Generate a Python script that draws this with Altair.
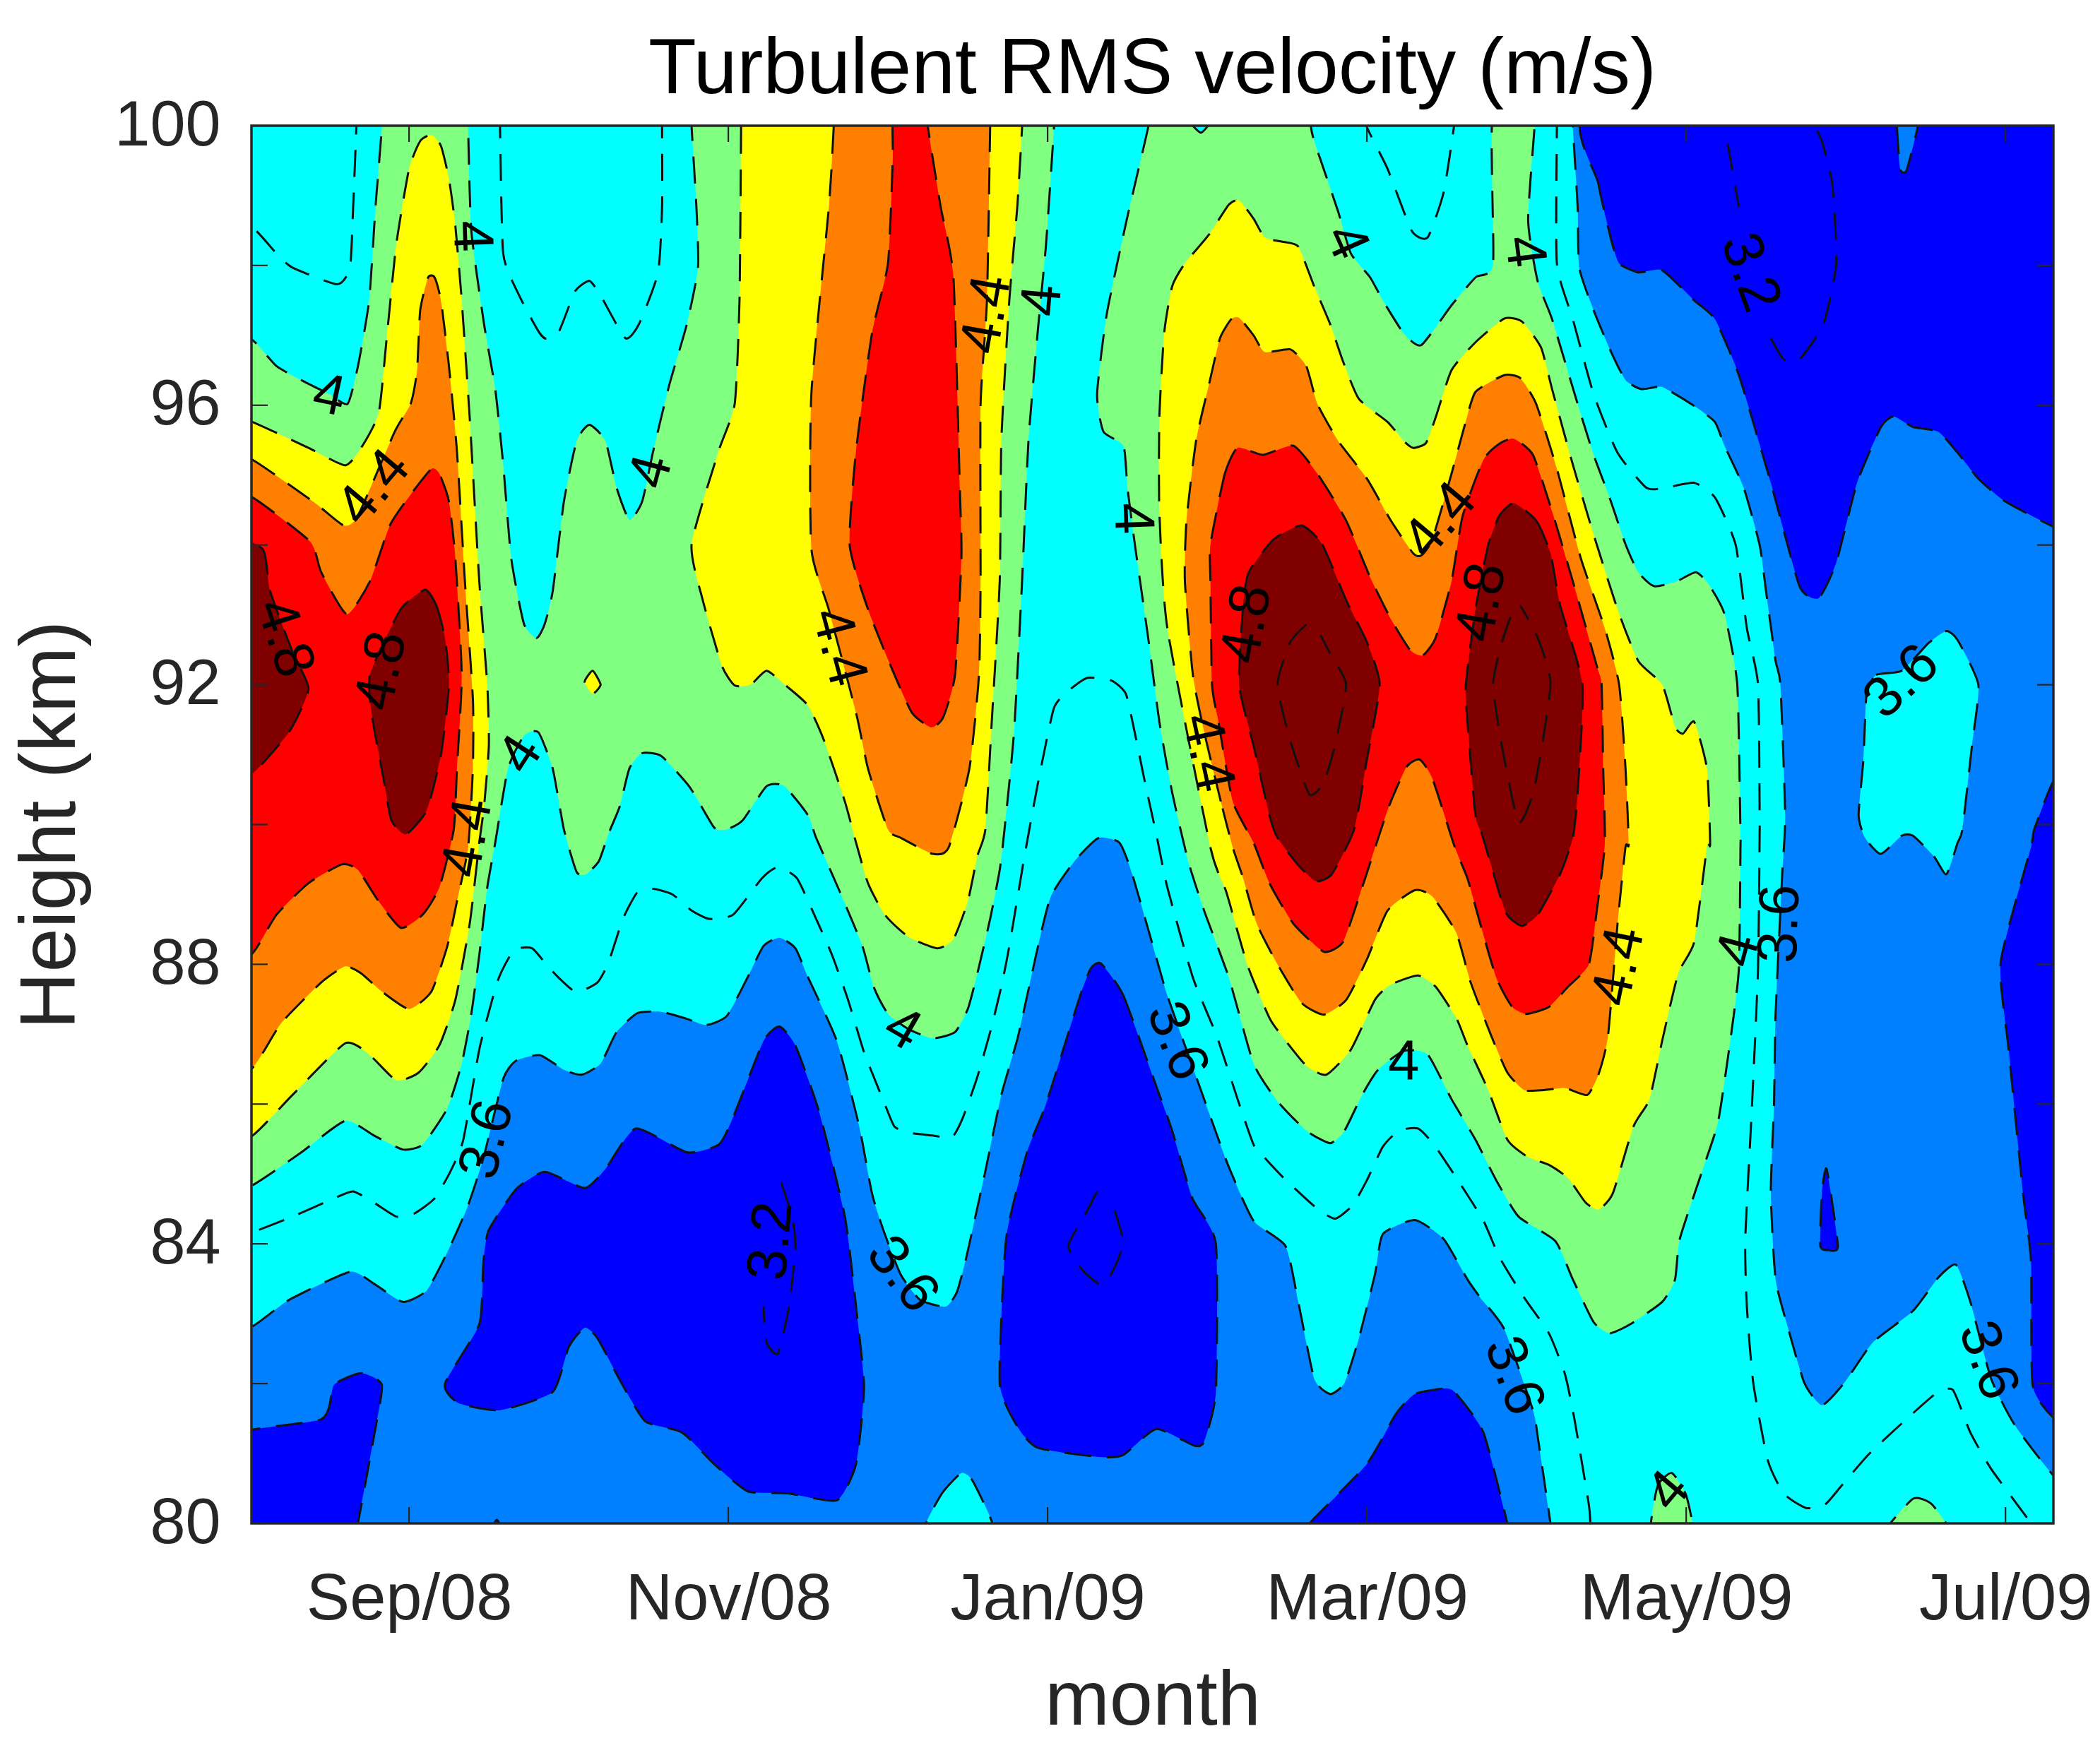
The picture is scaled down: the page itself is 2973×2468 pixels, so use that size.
import altair as alt
import pandas as pd

# ---- axis content -------------------------------------------------------
MONTH_TICKS = [0, 2, 4, 6, 8, 10]          # months after Sep/08
MONTH_NAMES = ["Sep/08", "Nov/08", "Jan/09", "Mar/09", "May/09", "Jul/09"]
HEIGHT_LABELS = [80, 84, 88, 92, 96, 100]  # km
HEIGHT_TICKS = [80, 82, 84, 86, 88, 90, 92, 94, 96, 98, 100]
M_MIN, M_MAX = -0.987, 10.3
K_MIN, K_MAX = 80, 100

# ---- contours: (months after Sep/08, height km) ----
# level 3.4: below it dark blue
D1 = [(-1.2,81.2),(-0.55,81.49),(-0.47,81.98),(-0.30,82.15),(-0.17,81.98),(-0.22,81.24),(-0.32,80.0),(-0.34,79.8),(-1.2,79.8)]
D2 = [(0.225,82.0),(0.44,82.85),(0.466,83.75),(0.50,84.2),(0.67,84.78),(0.85,85.03),(1.10,84.8),(1.23,85.07),(1.42,85.65),(1.74,85.31),(1.94,85.42),(2.03,85.81),(2.22,86.9),(2.32,87.11),(2.42,86.84),(2.57,85.88),(2.73,84.39),(2.80,83.1),(2.85,81.95),(2.80,80.85),(2.68,80.33),(2.37,80.43),(2.12,80.46),(1.91,80.85),(1.71,81.3),(1.48,81.46),(1.33,82.01),(1.18,82.65),(1.10,82.8),(1.00,82.52),(0.90,81.88),(0.57,81.62),(0.31,81.72)]
D3 = [(4.335,88.01),(4.475,87.55),(4.68,86.26),(4.78,85.62),(4.907,84.65),(5.054,84.0),(5.054,81.88),(4.98,81.17),(4.92,81.11),(4.68,81.35),(4.475,80.98),(4.32,80.95),(3.94,81.08),(3.815,81.37),(3.70,82.01),(3.74,84.07),(3.87,85.3),(3.99,86.0),(4.195,87.49),(4.27,87.94)]
D4 = [(5.6,79.8),(5.64,80.0),(6.0,80.85),(6.18,81.56),(6.30,81.85),(6.48,81.93),(6.55,81.88),(6.73,81.3),(6.88,80.0),(6.9,79.8)]
D5 = [(7.40,100.2),(7.45,99.17),(7.53,98.37),(7.58,98.03),(7.70,97.9),(7.85,97.93),(8.05,97.5),(8.18,97.23),(8.33,96.43),(8.53,94.89),(8.71,93.41),(8.83,93.24),(8.94,93.75),(9.07,94.89),(9.22,95.69),(9.30,95.84),(9.42,95.69),(9.58,95.62),(9.70,95.32),(9.83,94.95),(10.0,94.62),(10.31,94.25),(10.5,94.1),(10.5,100.2),(9.45,100.2),(9.45,99.98),(9.38,99.36),(9.34,99.38),(9.32,99.98),(9.32,100.2)]
D6 = [(10.5,90.9),(10.31,90.66),(10.18,89.93),(10.16,89.68),(9.97,88.03),(10.02,86.78),(10.11,84.72),(10.16,83.75),(10.17,81.98),(10.31,81.49),(10.5,81.3)]
D7 = [(8.88,85.07),(8.95,83.97),(8.89,83.91),(8.84,83.97),(8.85,84.72)]
D8 = [(0.50,79.8),(0.55,80.05),(0.60,79.8)]

# level 3.6: above it cyan
C1 = [(-1.2,82.7),(-0.98,82.82),(-0.75,83.2),(-0.37,83.6),(-0.22,83.43),(-0.04,83.17),(0.11,83.33),(0.24,83.88),(0.365,84.52),(0.466,85.23),(0.59,86.36),(0.67,86.62),(0.82,86.7),(0.97,86.49),(1.08,86.42),(1.20,86.58),(1.30,87.03),(1.43,87.3),(1.58,87.32),(1.74,87.22),(1.86,87.13),(1.99,87.26),(2.12,87.81),(2.22,88.26),(2.32,88.38),(2.42,88.23),(2.50,87.81),(2.68,86.9),(2.82,85.68),(2.90,84.72),(2.98,84.14),(3.08,83.56),(3.20,83.2),(3.36,83.1),(3.43,83.3),(3.485,83.75),(3.535,84.26),(3.61,85.04),(3.71,86.13),(3.815,86.97),(3.94,88.26),(4.02,88.97),(4.17,89.48),(4.32,89.81),(4.45,89.74),(4.53,89.29),(4.70,87.94),(4.75,87.55),(4.86,86.84),(5.01,85.88),(5.135,85.1),(5.29,84.33),(5.49,83.97),(5.57,83.17),(5.67,82.07),(5.77,81.85),(5.86,82.01),(5.95,82.65),(6.05,83.56),(6.10,84.14),(6.30,84.34),(6.48,84.07),(6.63,83.49),(6.71,83.23),(6.86,82.78),(7.04,81.62),(7.07,81.24),(7.15,80.0),(7.16,79.8),(10.5,79.8),(10.5,80.4),(10.31,80.66),(10.06,81.4),(9.91,82.07),(9.78,83.17),(9.69,83.7),(9.58,83.52),(9.42,83.04),(9.17,82.59),(8.99,82.01),(8.85,81.69),(8.74,82.01),(8.64,82.78),(8.56,83.49),(8.53,84.72),(8.55,86.0),(8.56,87.29),(8.60,89.23),(8.62,90.13),(8.59,92.0),(8.56,92.34),(8.50,93.34),(8.46,94.0),(8.36,94.82),(8.24,95.42),(8.18,95.76),(8.05,95.99),(7.85,96.26),(7.72,96.23),(7.62,96.36),(7.53,96.76),(7.42,97.36),(7.33,97.97),(7.32,98.84),(7.29,99.98),(7.29,100.2),(-1.2,100.2)]
C2 = [(3.22,79.8),(3.33,80.4),(3.46,80.72),(3.535,80.59),(3.67,79.8)]
C3 = [(9.13,91.87),(9.19,92.14),(9.35,92.2),(9.52,92.6),(9.63,92.77),(9.70,92.64),(9.83,92.0),(9.79,91.13),(9.73,89.93),(9.70,89.74),(9.63,89.29),(9.55,89.55),(9.42,89.84),(9.35,89.84),(9.22,89.58),(9.12,89.81),(9.08,90.13),(9.11,90.93)]

# level 4.0: above it green
G1 = [(-1.2,84.7),(-0.98,84.84),(-0.68,85.3),(-0.40,85.76),(-0.22,85.55),(-0.04,85.35),(0.085,85.42),(0.24,85.94),(0.33,86.58),(0.39,87.29),(0.44,88.13),(0.49,89.1),(0.54,89.74),(0.62,90.8),(0.72,91.27),(0.81,91.32),(0.90,90.8),(0.97,89.93),(1.05,89.32),(1.11,89.29),(1.19,89.48),(1.25,89.87),(1.32,90.26),(1.38,90.8),(1.46,91.02),(1.58,90.98),(1.76,90.53),(1.91,89.96),(1.99,89.93),(2.09,90.06),(2.24,90.55),(2.35,90.55),(2.50,90.13),(2.55,89.81),(2.70,89.03),(2.84,88.26),(2.91,87.68),(3.0,87.29),(3.13,87.07),(3.28,86.94),(3.42,87.03),(3.50,87.36),(3.56,87.87),(3.64,88.65),(3.70,89.35),(3.73,89.93),(3.79,91.33),(3.84,93.48),(3.88,95.49),(3.94,97.1),(3.99,98.3),(4.04,99.98),(4.04,100.2),(1.77,100.2),(1.77,99.98),(1.80,98.84),(1.81,97.97),(1.74,97.16),(1.63,96.29),(1.53,95.35),(1.46,94.62),(1.38,94.36),(1.30,94.82),(1.23,95.49),(1.13,95.72),(1.05,95.49),(0.97,94.62),(0.90,93.34),(0.85,92.87),(0.80,92.67),(0.72,92.87),(0.64,93.81),(0.59,95.15),(0.54,96.23),(0.47,97.16),(0.39,98.5),(0.37,99.98),(0.37,100.2),(-0.17,100.2),(-0.17,99.98),(-0.21,98.84),(-0.25,97.5),(-0.32,96.56),(-0.385,96.02),(-0.50,96.16),(-0.65,96.33),(-0.83,96.56),(-0.98,96.93),(-1.2,97.1)]
G2 = [(4.63,100.2),(4.63,99.98),(4.50,98.7),(4.37,97.3),(4.31,96.16),(4.35,95.62),(4.475,95.42),(4.50,94.82),(4.55,93.95),(4.63,92.67),(4.70,91.47),(4.78,90.46),(4.88,89.48),(4.98,88.77),(5.135,87.81),(5.29,86.58),(5.44,86.04),(5.62,85.62),(5.77,85.44),(5.86,85.62),(5.97,86.13),(6.07,86.49),(6.23,86.76),(6.38,86.71),(6.53,86.07),(6.68,85.49),(6.81,84.91),(6.95,84.39),(7.18,84.04),(7.29,83.49),(7.42,82.88),(7.52,82.72),(7.65,82.85),(7.85,83.17),(7.93,83.49),(7.96,84.07),(8.10,85.04),(8.20,85.75),(8.28,86.97),(8.33,87.94),(8.34,89.68),(8.34,89.86),(8.32,92.0),(8.24,93.01),(8.14,93.44),(8.06,93.61),(7.94,93.48),(7.80,93.41),(7.70,93.61),(7.62,94.01),(7.52,94.68),(7.42,95.29),(7.32,96.02),(7.16,97.23),(7.07,97.77),(7.01,98.64),(7.05,99.98),(7.05,100.2),(6.79,100.2),(6.79,98.03),(6.68,97.83),(6.53,97.43),(6.34,96.86),(6.23,97.03),(6.10,97.5),(6.02,97.83),(5.90,98.17),(5.82,98.77),(5.67,99.78),(5.65,99.98),(5.65,100.2)]
G3 = [(7.78,79.8),(7.82,80.53),(7.91,80.72),(8.0,80.4),(8.04,79.8)]
G4 = [(9.23,79.8),(9.42,80.35),(9.54,80.27),(9.66,79.8)]
C4 = [(4.88,100.1),(4.96,99.9),(5.03,100.1)]   # small cyan dimple at the top of the green

# level 4.2: above it yellow
Y1 = [(-1.2,95.9),(-0.98,95.76),(-0.63,95.39),(-0.40,95.14),(-0.30,95.39),(-0.19,95.89),(-0.14,96.96),(-0.08,98.3),(-0.0,99.38),(0.07,99.78),(0.14,99.87),(0.20,99.71),(0.25,99.24),(0.29,98.57),(0.33,97.5),(0.38,95.82),(0.44,93.48),(0.49,92.0),(0.50,91.13),(0.47,90.26),(0.44,89.74),(0.38,88.58),(0.29,87.49),(0.19,86.84),(0.06,86.45),(-0.08,86.34),(-0.25,86.71),(-0.40,86.87),(-0.73,86.13),(-0.98,85.55),(-1.2,85.4)]
Y2 = [(2.08,100.2),(2.08,99.98),(2.07,97.5),(2.04,96.02),(1.94,95.35),(1.77,94.01),(1.84,93.21),(1.96,92.27),(2.04,91.99),(2.14,92.0),(2.24,92.2),(2.37,91.97),(2.50,91.7),(2.60,91.2),(2.73,90.33),(2.80,89.74),(2.875,89.16),(2.98,88.71),(3.13,88.39),(3.31,88.23),(3.41,88.36),(3.50,88.9),(3.56,89.55),(3.61,89.93),(3.65,91.47),(3.70,93.48),(3.71,95.49),(3.76,97.5),(3.81,98.84),(3.84,99.98),(3.84,100.2)]
Y3 = [(5.02,89.67),(4.75,92.81),(4.70,94.48),(4.70,95.82),(4.73,97.03),(4.78,97.7),(4.86,98.03),(5.01,98.44),(5.135,98.87),(5.20,98.93),(5.29,98.67),(5.36,98.4),(5.47,98.34),(5.57,98.27),(5.67,97.7),(5.77,97.16),(5.85,96.63),(5.95,96.09),(6.13,95.76),(6.23,95.49),(6.29,95.39),(6.37,95.46),(6.43,95.82),(6.53,96.5),(6.68,96.9),(6.86,97.24),(6.97,97.2),(7.09,96.83),(7.16,96.23),(7.29,95.15),(7.42,94.15),(7.57,93.08),(7.70,92.34),(7.85,92.0),(7.93,91.4),(7.98,91.3),(8.05,91.47),(8.13,90.8),(8.15,89.72),(8.13,89.68),(8.05,88.32),(7.95,87.87),(7.85,86.91),(7.77,86.07),(7.67,85.68),(7.54,84.72),(7.45,84.49),(7.37,84.59),(7.26,84.94),(7.14,85.13),(7.01,85.24),(6.88,85.49),(6.76,86.2),(6.63,86.84),(6.56,87.23),(6.43,87.68),(6.32,87.84),(6.15,87.71),(6.05,87.49),(5.90,86.78),(5.745,86.42),(5.62,86.55),(5.49,86.91),(5.39,87.23),(5.25,88.0),(5.12,89.03)]
Y4 = [(1.10,92.04),(1.15,92.2),(1.20,92.0),(1.15,91.87)]

# level 4.4: above it orange
O1 = [(-1.2,95.4),(-0.98,95.22),(-0.60,94.62),(-0.41,94.28),(-0.32,94.42),(-0.09,95.62),(0.01,96.02),(0.05,96.49),(0.07,97.36),(0.12,97.83),(0.16,97.83),(0.20,97.5),(0.25,96.56),(0.30,95.35),(0.35,93.48),(0.40,91.8),(0.40,90.8),(0.37,89.67),(0.30,88.9),(0.24,88.26),(0.14,87.61),(-0.0,87.36),(-0.17,87.61),(-0.30,87.87),(-0.40,87.97),(-0.55,87.74),(-0.80,87.16),(-0.98,86.52),(-1.2,86.3)]
O2 = [(2.66,100.2),(2.66,99.98),(2.63,98.84),(2.52,96.16),(2.52,93.95),(2.63,93.07),(2.80,91.6),(2.875,90.8),(3.0,89.93),(3.08,89.81),(3.28,89.58),(3.38,89.67),(3.51,90.8),(3.57,92.14),(3.58,93.48),(3.58,96.0),(3.62,97.5),(3.64,99.98),(3.64,100.2)]
O3 = [(5.16,89.67),(5.085,90.33),(4.98,91.33),(4.91,92.14),(4.86,93.48),(4.87,94.35),(4.93,95.49),(5.01,96.29),(5.08,96.96),(5.15,97.23),(5.20,97.25),(5.29,97.0),(5.36,96.76),(5.52,96.8),(5.62,96.56),(5.69,96.02),(5.82,95.49),(6.0,94.95),(6.15,94.35),(6.29,93.88),(6.34,93.85),(6.41,94.08),(6.53,95.02),(6.61,95.69),(6.68,96.19),(6.86,96.43),(6.96,96.39),(7.06,96.02),(7.19,95.09),(7.34,93.81),(7.49,92.81),(7.58,92.0),(7.62,90.8),(7.64,89.72),(7.62,89.68),(7.57,88.58),(7.51,86.97),(7.45,86.42),(7.38,86.13),(7.24,86.23),(7.11,86.2),(6.985,86.2),(6.88,86.45),(6.78,86.97),(6.65,87.74),(6.56,88.45),(6.41,88.97),(6.30,89.06),(6.13,88.77),(6.0,88.07),(5.87,87.49),(5.73,87.28),(5.59,87.45),(5.44,88.0),(5.31,88.58),(5.225,89.23)]

# level 4.6: above it red
R1 = [(-1.2,94.8),(-0.98,94.68),(-0.62,94.05),(-0.55,93.61),(-0.39,93.01),(-0.245,93.48),(-0.12,94.28),(0.01,94.72),(0.14,95.09),(0.19,95.02),(0.25,94.62),(0.29,93.81),(0.33,92.14),(0.30,90.8),(0.28,89.93),(0.19,89.1),(0.085,88.71),(-0.05,88.52),(-0.19,88.9),(-0.32,89.35),(-0.42,89.43),(-0.63,89.16),(-0.83,88.71),(-0.98,88.16),(-1.2,87.9)]
R2 = [(3.04,100.2),(3.25,100.2),(3.25,99.98),(3.33,98.84),(3.41,97.83),(3.45,94.82),(3.46,93.81),(3.42,92.14),(3.345,91.53),(3.27,91.39),(3.15,91.6),(3.03,92.2),(2.875,93.08),(2.76,94.0),(2.80,95.35),(2.90,97.03),(3.0,98.03),(3.03,99.51)]
R3 = [(5.02,94.01),(5.11,95.02),(5.19,95.39),(5.35,95.29),(5.54,95.42),(5.69,95.02),(5.87,94.35),(6.02,93.54),(6.15,92.94),(6.27,92.5),(6.35,92.42),(6.43,92.67),(6.53,93.48),(6.60,94.42),(6.73,95.22),(6.83,95.45),(6.92,95.52),(7.04,95.29),(7.16,94.48),(7.29,93.48),(7.44,92.27),(7.47,92.0),(7.48,90.8),(7.49,89.72),(7.44,88.77),(7.39,88.0),(7.26,87.68),(7.14,87.39),(7.0,87.29),(6.91,87.39),(6.81,87.81),(6.71,88.58),(6.63,89.23),(6.55,89.68),(6.41,90.66),(6.33,90.93),(6.25,90.83),(6.15,90.33),(6.08,89.87),(5.96,89.03),(5.85,88.32),(5.73,88.18),(5.54,88.58),(5.39,89.16),(5.29,89.74),(5.16,90.33),(5.07,91.47),(5.03,92.0),(5.02,93.48)]

# level 4.8: above it dark red
K1 = [(-1.2,94.0),(-0.92,93.95),(-0.87,93.34),(-0.73,92.47),(-0.63,91.94),(-0.75,91.33),(-0.98,90.73),(-1.2,90.5)]
K2 = [(0.10,93.36),(0.17,93.14),(0.225,92.67),(0.25,92.0),(0.20,91.0),(0.11,90.2),(-0.02,89.86),(-0.11,90.06),(-0.16,90.66),(-0.23,91.53),(-0.245,92.14),(-0.055,93.07)]
K3 = [(5.59,94.28),(5.72,94.01),(5.87,93.21),(6.0,92.61),(6.08,92.0),(6.0,90.93),(5.92,89.93),(5.78,89.29),(5.68,89.19),(5.57,89.42),(5.44,89.81),(5.39,90.13),(5.29,91.13),(5.20,92.0),(5.225,93.14),(5.26,93.61),(5.415,94.08)]
K4 = [(6.92,94.6),(7.06,94.35),(7.15,93.88),(7.21,93.14),(7.35,92.0),(7.32,90.46),(7.29,89.81),(7.21,89.29),(7.07,88.71),(6.97,88.55),(6.87,88.74),(6.77,89.48),(6.72,89.87),(6.68,90.13),(6.63,91.47),(6.62,92.0),(6.68,93.08),(6.76,94.0),(6.83,94.42)]

# unfilled contours: 3.8 inside cyan, 3.2 inside dark blue, 5.0 inside dark red
L38_A = [(-1.2,98.7),(-0.98,98.54),(-0.83,98.17),(-0.73,97.97),(-0.45,97.73),(-0.37,97.97),(-0.35,98.84),(-0.33,99.98),(-0.33,100.2)]
L38_B = [(0.57,100.2),(0.57,99.98),(0.59,98.17),(0.69,97.57),(0.81,97.06),(0.86,96.95),(0.94,97.06),(1.04,97.63),(1.13,97.78),(1.20,97.57),(1.355,96.96),(1.44,97.16),(1.56,97.9),(1.585,98.84),(1.585,99.98),(1.585,100.2)]
L38_C = [(-1.2,84.1),(-0.98,84.17),(-0.73,84.39),(-0.47,84.65),(-0.35,84.75),(-0.22,84.59),(-0.08,84.39),(0.03,84.43),(0.16,84.65),(0.26,85.04),(0.34,85.49),(0.44,86.78),(0.54,87.65),(0.58,87.9),(0.66,88.21),(0.77,88.23),(0.87,87.97),(0.95,87.78),(1.05,87.6),(1.18,87.74),(1.25,88.03),(1.34,88.65),(1.43,89.03),(1.53,89.08),(1.65,89.0),(1.77,88.77),(1.88,88.65),(2.03,88.71),(2.21,89.23),(2.31,89.39),(2.43,89.23),(2.55,88.65),(2.65,88.13),(2.75,87.49),(2.85,86.74),(2.90,86.45),(2.98,86.0),(3.04,85.68),(3.13,85.59),(3.28,85.55),(3.40,85.52),(3.47,85.81),(3.56,86.39),(3.64,87.03),(3.71,87.68),(3.76,88.26),(3.85,89.48),(3.88,89.86),(3.94,90.6),(4.04,91.67),(4.145,91.94),(4.25,92.1),(4.40,92.06),(4.49,91.87),(4.55,91.27),(4.61,90.6),(4.68,89.87),(4.75,89.1),(4.91,87.81),(5.06,86.97),(5.19,86.07),(5.29,85.42),(5.36,85.23),(5.48,84.94),(5.68,84.52),(5.80,84.36),(5.91,84.55),(6.0,84.91),(6.10,85.39),(6.20,85.62),(6.32,85.65),(6.42,85.42),(6.57,84.91),(6.73,84.33),(6.83,83.81),(6.985,83.23),(7.14,82.72),(7.24,82.14),(7.30,81.49),(7.39,80.27),(7.40,80.0),(7.41,79.8)]
L38_D = [(7.19,100.2),(7.19,99.98),(7.19,98.03),(7.29,97.23),(7.42,96.16),(7.57,95.32),(7.75,94.82),(7.87,94.82),(8.05,94.89),(8.18,94.68),(8.31,94.0),(8.38,92.81),(8.45,92.0),(8.46,90.13),(8.46,89.87),(8.45,87.94),(8.41,85.88),(8.37,84.07),(8.38,83.1),(8.42,82.01),(8.51,80.91),(8.61,80.43),(8.75,80.22),(8.87,80.27),(8.97,80.53),(9.14,80.98),(9.35,81.43),(9.56,81.85),(9.67,81.91),(9.78,81.3),(9.91,80.78),(10.16,80.0),(10.2,79.8)]
L38_E = [(6.0,100.2),(6.0,99.98),(6.13,99.38),(6.28,98.5),(6.38,98.4),(6.48,99.04),(6.545,99.98),(6.55,100.2)]
L32_A = [(2.33,84.88),(2.40,84.39),(2.42,83.94),(2.38,83.1),(2.31,82.43),(2.24,82.59),(2.22,83.1)]
L32_B = [(4.31,84.75),(4.245,84.46),(4.13,83.97),(4.22,83.62),(4.335,83.41),(4.41,83.62),(4.475,84.0),(4.44,84.33),(4.40,84.62)]
L32_C = [(8.26,99.74),(8.33,98.84)]
L32_D = [(8.53,96.96),(8.61,96.66),(8.71,96.66),(8.86,97.16),(8.94,98.03),(8.915,99.17),(8.85,99.78),(8.80,100.0)]
L50_A = [(5.62,92.86),(5.52,92.61),(5.44,92.0),(5.52,91.2),(5.64,90.43),(5.73,90.6),(5.80,91.13),(5.87,92.0),(5.78,92.4),(5.71,92.71)]
L50_B = [(6.90,92.97),(6.845,92.6),(6.79,92.0),(6.845,91.13),(6.95,90.03),(7.05,90.53),(7.15,92.0),(7.07,92.67),(6.96,93.14)]

# contour labels
LABEL_TEXT = ["4","4","4.4","4.8","4.8","4.4","4","4","4.4","3.6","3.2","4.4","4","4","4.8","4.4","4","4.4","4.8","4","3.2","3.6","4","3.6","3.6","4","4.4","4","3.6","3.6","3.6","4"]
LABEL_M = [0.39,-0.50,-0.22,-0.78,-0.17,2.69,1.52,0.70,0.37,0.49,2.27,3.62,3.97,4.53,5.25,5.0,5.87,6.46,6.72,6.985,8.40,9.35,3.09,3.09,4.81,6.23,7.58,8.33,8.59,6.92,9.89,7.89]
LABEL_KM = [98.42,96.13,94.82,92.67,92.2,92.54,95.05,91.0,89.81,85.49,84.04,97.3,97.5,94.38,92.87,91.03,98.34,94.35,93.18,98.2,97.9,92.04,87.07,83.56,86.9,86.6,87.97,88.2,88.58,82.11,82.33,80.46]
LABEL_ANGLE = [88,12,-50,72,-79,75,-75,-57,-80,-76,-85,-80,-85,88,-80,78,66,-50,-80,83,70,-43,30,52,68,0,-78,-75,-88,70,70,-50]

# ---- colours, painted in this order over the blue background --------------
BASE_BLUE = "#0080FF"
FILLED = [
    ("#0000FF", [D1, D2, D3, D4, D5, D6, D7, D8]),
    ("#00FFFF", [C1, C2, C3]),
    ("#80FF80", [G1, G2, G3, G4]),
    ("#00FFFF", [C4]),
    ("#FFFF00", [Y1, Y2, Y3, Y4]),
    ("#FF8000", [O1, O2, O3]),
    ("#FF0000", [R1, R2, R3]),
    ("#800000", [K1, K2, K3, K4]),
]
OPEN_LINES = [L38_A, L38_B, L38_C, L38_D, L38_E, L32_A, L32_B, L32_C, L32_D, L50_A, L50_B]

W, H = 2551, 1979
FONT = "Liberation Sans"
INK = "#262626"
DASH = [38, 22]
LINE_W = 3

x_enc = alt.X("m:Q", title="month",
    scale=alt.Scale(domain=[M_MIN, M_MAX], nice=False, zero=False),
    axis=alt.Axis(values=MONTH_TICKS, labelExpr=f"{MONTH_NAMES}[datum.value / 2]",
                  grid=False, ticks=False, domain=False, labelFont=FONT, labelFontSize=92,
                  labelColor=INK, labelPadding=62, labelOverlap=False, labelBound=False,
                  labelFlush=False, labelLimit=1000, titleFont=FONT, titleFontSize=110,
                  titleFontWeight="normal", titleColor=INK, titlePadding=44))
y_enc = alt.Y("k:Q", title="Height (km)",
    scale=alt.Scale(domain=[K_MIN, K_MAX], nice=False, zero=False),
    axis=alt.Axis(values=HEIGHT_LABELS, grid=False, ticks=False, domain=False, labelFont=FONT,
                  labelFontSize=90, labelColor=INK, labelPadding=44, labelOverlap=False,
                  labelBound=False, labelFlush=False, labelLimit=1000, titleFont=FONT,
                  titleFontSize=112, titleFontWeight="normal", titleColor=INK, titlePadding=32))


def table(points):
    return pd.DataFrame({"m": [p[0] for p in points], "k": [p[1] for p in points],
                         "i": list(range(len(points)))})


layers = []
for colour, polys in FILLED:
    for poly in polys:
        layers.append(alt.Chart(table(poly)).mark_line(
            fill=colour, stroke="#111111", strokeWidth=LINE_W, strokeDash=DASH, clip=True,
            interpolate="cardinal-closed", tension=0.45,
        ).encode(x=x_enc, y=y_enc, order=alt.Order("i:Q")))

for line in OPEN_LINES:
    layers.append(alt.Chart(table(line)).mark_line(
        stroke="#111111", strokeWidth=LINE_W, strokeDash=DASH, clip=True,
        interpolate="cardinal", tension=0.45,
    ).encode(x=x_enc, y=y_enc, order=alt.Order("i:Q")))

labels = pd.DataFrame({"t": LABEL_TEXT, "m": LABEL_M, "k": LABEL_KM,
                       "a": [a % 360 for a in LABEL_ANGLE]})
layers.append(alt.Chart(labels).mark_text(
    font=FONT, fontSize=80, color="#000000", align="center", baseline="middle",
).encode(x=x_enc, y=y_enc, text="t:N", angle=alt.Angle("a:Q", scale=None)))

# inward ticks on all four sides
TICK_M = 23 / W * (M_MAX - M_MIN)
TICK_K = 23 / H * (K_MAX - K_MIN)
tx = pd.DataFrame({"m": MONTH_TICKS})
ty = pd.DataFrame({"k": HEIGHT_TICKS})
for k0, k1 in [(K_MIN, K_MIN + TICK_K), (K_MAX, K_MAX - TICK_K)]:
    layers.append(alt.Chart(tx.assign(k=k0, k2=k1)).mark_rule(color=INK, strokeWidth=2.2).encode(
        x=x_enc, y=y_enc, y2="k2:Q"))
for m0, m1 in [(M_MIN, M_MIN + TICK_M), (M_MAX, M_MAX - TICK_M)]:
    layers.append(alt.Chart(ty.assign(m=m0, m2=m1)).mark_rule(color=INK, strokeWidth=2.2).encode(
        x=x_enc, x2="m2:Q", y=y_enc))

# frame
layers.append(alt.Chart(pd.DataFrame({"z": [0]})).mark_rect(
    filled=False, stroke=INK, strokeWidth=3.5,
).encode(x=alt.value(0), x2=alt.value(W), y=alt.value(0), y2=alt.value(H)))

chart = alt.layer(*layers).properties(
    width=W, height=H,
    title=alt.Title("Turbulent RMS velocity (m/s)", font=FONT, fontSize=111, fontWeight="normal",
                    color="#000000", anchor="middle", offset=-22),
    autosize=alt.AutoSizeParams(type="none"),
    padding={"left": 348, "top": 170, "right": 58, "bottom": 302},
).configure_view(fill=BASE_BLUE, stroke=None)

chart.save("out.html", embed_options={"renderer": "svg", "actions": False})
